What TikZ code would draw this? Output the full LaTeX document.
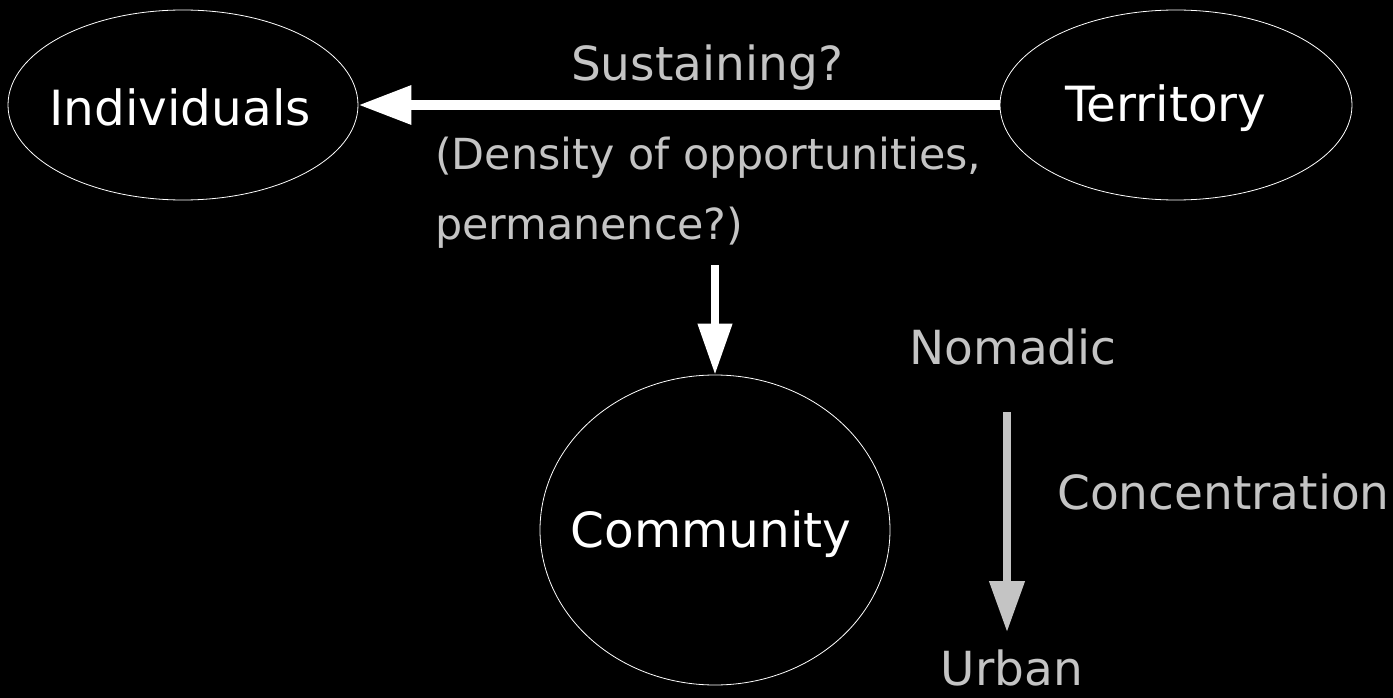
\documentclass[tikz,border=0pt]{standalone}
\usepackage{fontspec}
\setmainfont{DejaVu Sans}
\usetikzlibrary{arrows.meta,shapes.geometric}
\definecolor{lbl}{HTML}{C4C4C4}
\begin{document}
\begin{tikzpicture}[x=1pt,y=-1pt,
  ell/.style={draw=white, line width=0.8pt, ellipse, inner sep=0pt},
  elltext/.style={text=white, inner sep=0pt, font=\fontsize{48.5}{52}\selectfont},
  lab/.style={text=lbl, inner sep=0pt, font=\fontsize{47}{50}\selectfont},
  smalllab/.style={text=lbl, inner sep=0pt, font=\fontsize{42.8}{46}\selectfont},
  bigarrow/.style={draw=white, line width=9.5pt, -{Triangle[length=53pt,width=37pt]}},
  midarrow/.style={draw=white, line width=7.5pt, -{Triangle[length=51pt,width=33pt]}},
  greyarrow/.style={draw=lbl, line width=7.5pt, -{Triangle[length=51pt,width=34pt]}}
]
\fill[black] (0,0) rectangle (1393,698);
\useasboundingbox (0,0) rectangle (1393,698);
\node[ell, minimum width=350pt, minimum height=190pt,
  label={[elltext, xshift=-3pt, yshift=-2pt]center:Individuals}] (ind) at (183,105) {};
\node[ell, minimum width=352pt, minimum height=190pt,
  label={[elltext, xshift=-10pt, yshift=-3pt]center:Territory}] (ter) at (1176,105) {};
\node[ell, minimum width=350pt, minimum height=310pt,
  label={[elltext, xshift=-4pt, yshift=-4pt]center:Community}] (com) at (715,530) {};
\node[lab] (sus) at (707,68) {Sustaining?};
\node[smalllab, anchor=west] (dens) at (435,158) {(Density of opportunities,};
\node[smalllab, anchor=west] (perm) at (435,228) {permanence?)};
\node[lab] (nom) at (1013,347) {Nomadic};
\node[lab, anchor=west] (conc) at (1057,492) {Concentration};
\node[lab] (urb) at (1012,668) {Urban};
\coordinate (v1) at (715,265);
\coordinate (g1) at (1007,412);
\coordinate (g2) at (1007,632);
\draw[bigarrow] (ter.west) -- (ind.east);
\draw[midarrow] (v1) -- (com.north);
\draw[greyarrow] (g1) -- (g2);
\end{tikzpicture}
\end{document}
